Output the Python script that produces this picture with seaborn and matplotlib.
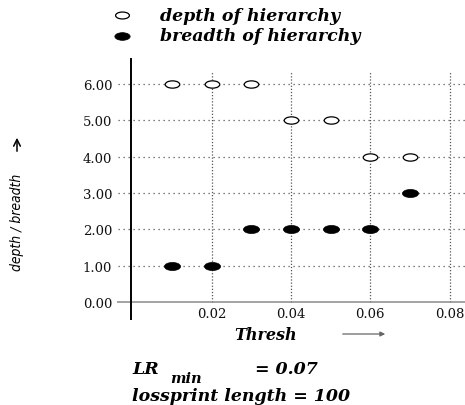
import numpy as np
import pandas as pd
import matplotlib
matplotlib.use('Agg')
import matplotlib.pyplot as plt
from matplotlib.path import Path
from matplotlib.transforms import Affine2D
import seaborn as sns

sns.set_theme(style='white')
plt.rcParams['font.family'] = ['DejaVu Serif']
plt.rcParams['text.color'] = 'black'

# data
depth_thresh = [0.01, 0.02, 0.03, 0.04, 0.05, 0.06, 0.07]
depth_vals = [6, 6, 6, 5, 5, 4, 4]
breadth_thresh = [0.01, 0.02, 0.03, 0.04, 0.05, 0.06, 0.07]
breadth_vals = [1, 1, 2, 2, 2, 2, 3]
x_ticks = [0.02, 0.04, 0.06, 0.08]
x_ticklabels = ['0.02', '0.04', '0.06', '0.08']
y_ticks = [0, 1, 2, 3, 4, 5, 6]
y_ticklabels = ['%.2f' % v for v in y_ticks]

W, H = 465, 406
def fx(px):
    return px / W
def fy(py):
    return 1 - py / H

fig = plt.figure(figsize=(W / 100, H / 100), dpi=100)
ax = fig.add_axes([fx(131), fy(320), fx(465) - fx(131), fy(60) - fy(320)])

# wide flat ellipse as marker
ellipse = Path.unit_circle().transformed(Affine2D().scale(1.0, 0.5))

depth_df = pd.DataFrame({'Thresh': depth_thresh, 'value': depth_vals})
breadth_df = pd.DataFrame({'Thresh': breadth_thresh, 'value': breadth_vals})

sns.scatterplot(data=depth_df, x='Thresh', y='value', ax=ax, marker=ellipse, s=110,
                facecolor='white', edgecolor='black', linewidth=0.9,
                label='depth of hierarchy', zorder=4)
sns.scatterplot(data=breadth_df, x='Thresh', y='value', ax=ax, marker=ellipse, s=135,
                color='black', edgecolor='black', linewidth=0.5,
                label='breadth of hierarchy', zorder=4)

ax.set_xlim(-0.0003, 0.0839)
ax.set_ylim(-0.47, 6.69)

# dotted grid, horizontal lines poke out left of the axis
ax.hlines(y_ticks[1:], -0.04, 1, transform=ax.get_yaxis_transform(), colors='#555555',
          linestyles=(0, (1, 3)), linewidth=0.9, clip_on=False, zorder=1)
ax.hlines([0], -0.043, 1, transform=ax.get_yaxis_transform(), colors='#8a8a8a',
          linewidth=1.1, clip_on=False, zorder=2)
ax.vlines(x_ticks, 0, 6.36, colors='#555555', linestyles=(0, (1, 1.5)), linewidth=0.9,
          zorder=1)

for side in ['top', 'right', 'bottom']:
    ax.spines[side].set_visible(False)
ax.spines['left'].set_color('black')
ax.spines['left'].set_linewidth(1.4)
ax.spines['bottom'].set_position(('data', 0))

ax.set_xticks(x_ticks)
ax.set_xticklabels(x_ticklabels)
ax.set_yticks(y_ticks)
ax.set_yticklabels(y_ticklabels)
ax.tick_params(axis='both', length=0, labelsize=9.5, colors='#111111')
ax.tick_params(axis='y', pad=13.5)
ax.tick_params(axis='x', pad=4)
ax.set_xlabel('')
ax.set_ylabel('')

bi = dict(fontweight='bold', fontstyle='italic', family='DejaVu Serif')

leg = ax.legend(loc='upper left', bbox_to_anchor=(fx(98), fy(1)), bbox_transform=fig.transFigure,
                frameon=False, handletextpad=1.2, labelspacing=0.2, borderaxespad=0,
                markerscale=0.95,
                prop=dict(size=12.5, weight='bold', style='italic', family='DejaVu Serif'))

# axis titles
fig.text(fx(266), fy(335), 'Thresh', ha='center', va='center', fontsize=11.5, **bi)
fig.add_artist(matplotlib.patches.FancyArrowPatch((fx(340), fy(335)), (fx(388), fy(335)),
               transform=fig.transFigure, arrowstyle='-|>', mutation_scale=7,
               color='#666666', linewidth=0.9))
fig.text(fx(17), fy(222), 'depth / breadth', rotation=90, ha='center', va='center',
         fontsize=10, fontstyle='italic', fontstretch='condensed',
         family=['Liberation Sans Narrow', 'DejaVu Sans'])
fig.add_artist(matplotlib.patches.FancyArrowPatch((fx(17), fy(155)), (fx(17), fy(136)),
               transform=fig.transFigure, arrowstyle='->', mutation_scale=12,
               color='black', linewidth=1.1))

# parameter notes under the chart
fig.text(fx(132), fy(370), 'LR', ha='left', va='center', fontsize=12.5, **bi)
fig.text(fx(170), fy(379), 'min', ha='left', va='center', fontsize=10.5, **bi)
fig.text(fx(255), fy(370), '= 0.07', ha='left', va='center', fontsize=12.5, **bi)
fig.text(fx(132), fy(397), 'lossprint length = 100', ha='left', va='center', fontsize=12.5, **bi)

fig.savefig('out.png', dpi=100)
